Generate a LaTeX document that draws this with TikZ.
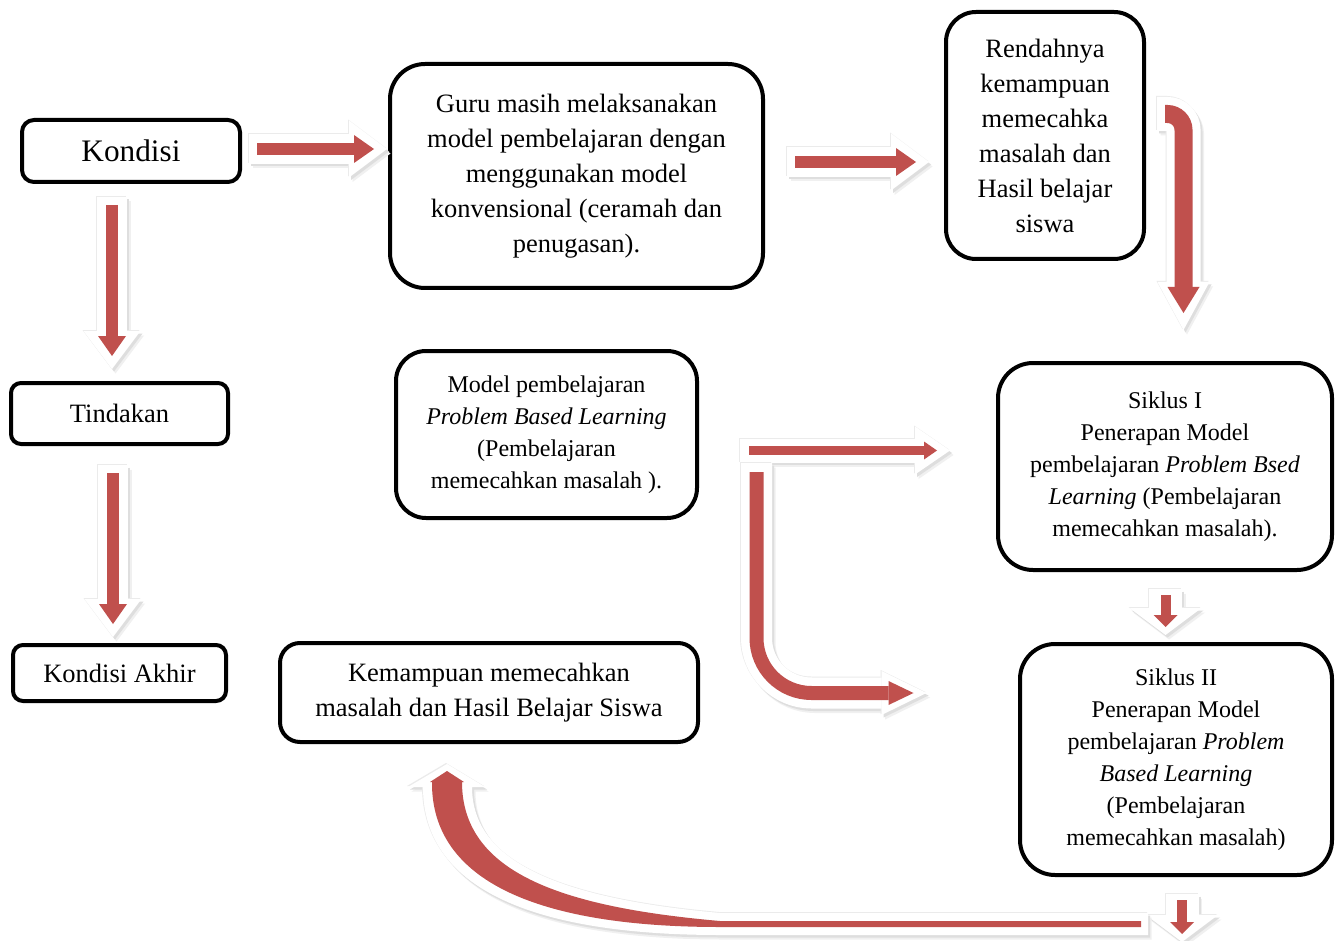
\documentclass[tikz,border=0pt]{standalone}
\usepackage{fontspec}
\setmainfont{Liberation Serif}
\usepackage{tikz}
\usetikzlibrary{arrows.meta,positioning,calc}
\definecolor{arrred}{HTML}{C0504D}

\begin{document}
\begin{tikzpicture}[
  x=1pt, y=-1pt,
  txt/.style={font=\fontsize{26.5}{35}\selectfont},
  txts/.style={font=\fontsize{24}{32}\selectfont},
  box/.style={draw, line width=4pt, align=center, inner sep=0pt, fill=white},
  lineshadow/.style={
    preaction={draw=black!6, line width=#1, transform canvas={shift={(3.5pt,-4.5pt)}}},
    preaction={draw=black!13, line width=#1, transform canvas={shift={(2pt,-2.5pt)}}},
    preaction={draw=black!8, line width=#1, transform canvas={shift={(-1pt,1pt)}}}},
  fillshadow/.style={
    preaction={fill=black!6, transform canvas={shift={(3.5pt,-4.5pt)}}},
    preaction={fill=black!13, transform canvas={shift={(2pt,-2.5pt)}}},
    preaction={fill=black!8, transform canvas={shift={(-1pt,1pt)}}}},
  bigarr/.style={draw=white, line width=30pt, -{Triangle[length=38pt,width=57pt,line width=0pt]}, lineshadow=30pt,
    postaction={draw=arrred, line width=12pt, shorten <=8pt, shorten >=13pt, -{Triangle[length=20pt,width=28pt,line width=0pt]}}},
  thinarr/.style={draw=white, line width=24pt, -{Triangle[length=35pt,width=48pt,line width=0pt]}, lineshadow=24pt,
    postaction={draw=arrred, line width=9pt, shorten <=9pt, shorten >=13pt, -{Triangle[length=13pt,width=18pt,line width=0pt]}}},
  bendarr/.style={draw=white, line width=31pt, rounded corners=55pt, -{Triangle[length=45pt,width=44pt,line width=0pt]}, lineshadow=31pt,
    postaction={draw=arrred, line width=14pt, shorten <=9pt, shorten >=13pt, -{Triangle[length=25pt,width=24pt,line width=0pt]}}},
  hookarr/.style={draw=white, line width=34pt, rounded corners=16pt, -{Triangle[length=48pt,width=52pt,line width=0pt]}, lineshadow=34pt,
    postaction={draw=arrred, line width=18pt, shorten <=8pt, shorten >=17pt, -{Triangle[length=26pt,width=32pt,line width=0pt]}}},
  stubarr/.style={draw=white, line width=33pt, -{Triangle[length=27pt,width=72pt,line width=0pt]}, lineshadow=33pt,
    postaction={draw=arrred, line width=10pt, shorten <=6pt, shorten >=8pt, -{Triangle[length=12pt,width=24pt,line width=0pt]}}},
  curvewhite/.style={fill=white, fillshadow},
  curvered/.style={fill=arrred},
]
\fill[white] (0,0) rectangle (1338,941);
\useasboundingbox (0,0) rectangle (1338,941);

\node[box, rounded corners=12pt, minimum width=218pt, minimum height=62pt, font=\fontsize{31.3}{38}\selectfont] (kondisi) at (131,151) {Kondisi};
\node[box, txt, rounded corners=35pt, minimum width=373pt, minimum height=224pt] (guru) at (576.5,176) {Guru masih melaksanakan\\model pembelajaran dengan\\menggunakan model\\konvensional (ceramah dan\\penugasan).};
\node[box, txt, rounded corners=30pt, minimum width=198pt, minimum height=247pt] (rendah) at (1045,135.5) {Rendahnya\\kemampuan\\memecahka\\masalah dan\\Hasil belajar\\siswa};
\node[box, txt, rounded corners=10pt, minimum width=217pt, minimum height=61pt] (tindakan) at (119.5,413.5) {Tindakan};
\node[box, txts, rounded corners=30pt, minimum width=301pt, minimum height=167pt] (model) at (546.5,434.5) {Model pembelajaran\\\textit{Problem Based Learning}\\(Pembelajaran\\memecahkan masalah ).};
\node[box, txts, rounded corners=35pt, minimum width=334pt, minimum height=207pt] (siklus1) at (1165,466.5) {Siklus I\\Penerapan Model\\pembelajaran \textit{Problem Bsed}\\\textit{Learning} (Pembelajaran\\memecahkan masalah).};
\node[box, txts, rounded corners=35pt, minimum width=312pt, minimum height=231pt] (siklus2) at (1176,759.5) {Siklus II\\Penerapan Model\\pembelajaran \textit{Problem}\\\textit{Based Learning}\\(Pembelajaran\\memecahkan masalah)};
\node[box, txt, rounded corners=10pt, minimum width=213pt, minimum height=56pt] (akhir) at (119.5,673) {Kondisi Akhir};
\node[box, txt, rounded corners=20pt, minimum width=418pt, minimum height=99pt] (kemampuan) at (489,692.5) {Kemampuan memecahkan\\masalah dan Hasil Belajar Siswa};

\draw[bigarr] ([shift={(7pt,2pt)}]kondisi.east) -- ++(138,0);
\draw[bigarr] ([shift={(22pt,14pt)}]guru.east) -- ++(142,0);
\draw[hookarr] ([shift={(11pt,21.5pt)}]rendah.east) -| ++(26.5,216);
\draw[bigarr] ([shift={(-19pt,-13pt)}]kondisi.south) -- ++(0,172);
\draw[bigarr] ([shift={(-6.5pt,-19pt)}]tindakan.south) -- ++(0,172);
\draw[thinarr] ([shift={(41pt,-16pt)}]model.east) -- ++(210,0);
\draw[bendarr] ([shift={(57.5pt,-28.5pt)}]model.east) |- ++(170,230);
\draw[stubarr] ([shift={(0.5pt,-17pt)}]siklus1.south) -- ++(0,46);
\draw[stubarr] ([shift={(6pt,-17pt)}]siklus2.south) -- ++(0,48);

\coordinate (curvetip) at ([shift={(-42pt,-20pt)}]kemampuan.south);
\begin{scope}[shift={(curvetip)}]
  \fill[curvewhite] (701,149) -- (273,149) .. controls (118,135) and (25,100) .. (25,23) -- (38,23) -- (0,0)
    -- (-39,23) -- (-24,23) .. controls (-24,128) and (93,171) .. (273,171) -- (701,171) -- cycle;
  \fill[curvered] (694,157) -- (273,157) .. controls (113,143) and (15,108) .. (15,18) -- (17,18) -- (0,7)
    -- (-17,18) -- (-15,18) .. controls (-16,118) and (93,163) .. (273,163) -- (694,163) -- cycle;
\end{scope}
\end{tikzpicture}
\end{document}
